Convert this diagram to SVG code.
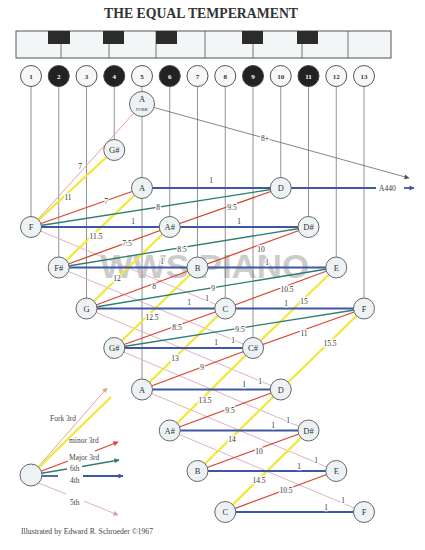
<svg xmlns="http://www.w3.org/2000/svg" width="425" height="550" viewBox="0 0 425 550">
<style>
.kb{fill:#f3f6f6;stroke:#555;stroke-width:1}
.bk{fill:#2b2b2b}
.kl{stroke:#555;stroke-width:0.8}
.num{fill:#f6f8f8;stroke:#555;stroke-width:1}
.numb{fill:#222;stroke:#444;stroke-width:1}
.nt{font-family:"Liberation Serif",serif;font-size:7px;font-weight:bold;text-anchor:middle;fill:#333}
.ntw{font-family:"Liberation Serif",serif;font-size:7px;font-weight:bold;text-anchor:middle;fill:#fff}
.node{fill:#edf3f5;stroke:#666;stroke-width:1}
.lab{font-family:"Liberation Serif",serif;font-size:8.5px;text-anchor:middle;fill:#333}
.v{stroke:#777;stroke-width:0.8;fill:none}
.bl{stroke:#3e56a6;stroke-width:1.8;fill:none}
.rd{stroke:#d9442f;stroke-width:1.3;fill:none}
.gr{stroke:#2e7d70;stroke-width:1.3;fill:none}
.ye{stroke:#f2e833;stroke-width:2.2;fill:none}
.pk{stroke:#e6a092;stroke-width:1;fill:none}
.p5{stroke:#dcb2c8;stroke-width:1;fill:none}
.fk{stroke:#666;stroke-width:0.8;fill:none}
.t{font-family:"Liberation Serif",serif;font-size:7.5px;text-anchor:middle;fill:#333;stroke:#fff;stroke-width:2.5;paint-order:stroke;stroke-linejoin:round}
.lg{font-family:"Liberation Serif",serif;font-size:7.5px;fill:#444}
</style>
<defs>
<marker id="mk" viewBox="0 0 10 10" refX="9" refY="5" markerWidth="7" markerHeight="5" orient="auto" markerUnits="userSpaceOnUse"><path d="M0,0 L10,5 L0,10 z" fill="#555"/></marker>
<marker id="mb" viewBox="0 0 10 10" refX="9" refY="5" markerWidth="7" markerHeight="5" orient="auto" markerUnits="userSpaceOnUse"><path d="M0,0 L10,5 L0,10 z" fill="#3e56a6"/></marker>
<marker id="mr" viewBox="0 0 10 10" refX="9" refY="5" markerWidth="7" markerHeight="5" orient="auto" markerUnits="userSpaceOnUse"><path d="M0,0 L10,5 L0,10 z" fill="#d9442f"/></marker>
<marker id="mg" viewBox="0 0 10 10" refX="9" refY="5" markerWidth="7" markerHeight="5" orient="auto" markerUnits="userSpaceOnUse"><path d="M0,0 L10,5 L0,10 z" fill="#2e7d70"/></marker>
<marker id="mp" viewBox="0 0 10 10" refX="9" refY="5" markerWidth="7" markerHeight="5" orient="auto" markerUnits="userSpaceOnUse"><path d="M0,0 L10,5 L0,10 z" fill="#e6a092"/></marker>
<marker id="m5" viewBox="0 0 10 10" refX="9" refY="5" markerWidth="7" markerHeight="5" orient="auto" markerUnits="userSpaceOnUse"><path d="M0,0 L10,5 L0,10 z" fill="#cf9ab8"/></marker>
</defs>
<rect width="425" height="550" fill="#fff"/>
<text x="201" y="18" font-family="Liberation Serif,serif" font-size="15" font-weight="bold" fill="#333" text-anchor="middle" textLength="194" lengthAdjust="spacingAndGlyphs">THE EQUAL TEMPERAMENT</text>

<g id="keyboard">
<rect class="kb" x="16" y="31" width="375" height="27"/>
<line class="kl" x1="156" y1="31" x2="156" y2="58"/>
<line class="kl" x1="205" y1="31" x2="205" y2="58"/>
<line class="kl" x1="348" y1="31" x2="348" y2="58"/>
<line class="kl" x1="61" y1="44" x2="61" y2="58"/>
<line class="kl" x1="109" y1="44" x2="109" y2="58"/>
<line class="kl" x1="253" y1="44" x2="253" y2="58"/>
<line class="kl" x1="302" y1="44" x2="302" y2="58"/>
<rect class="bk" x="48" y="31" width="22" height="13"/>
<rect class="bk" x="103" y="31" width="21" height="13"/>
<rect class="bk" x="156" y="31" width="21" height="13"/>
<rect class="bk" x="242" y="31" width="21" height="13"/>
<rect class="bk" x="297" y="31" width="21" height="13"/>
</g>

<text x="100" y="278" font-family="Liberation Sans,sans-serif" font-size="33" font-weight="bold" fill="#9a9a9a" opacity="0.5" textLength="209" lengthAdjust="spacingAndGlyphs">WWS PIANO</text>

<g id="connectors">
<g id="verticals">
<line class="v" x1="31" y1="86" x2="31" y2="227"/>
<line class="v" x1="58.75" y1="86" x2="58.75" y2="267.5"/>
<line class="v" x1="86.5" y1="86" x2="86.5" y2="308.5"/>
<line class="v" x1="114.25" y1="86" x2="114.25" y2="150"/>
<line class="v" x1="142" y1="86" x2="142" y2="389.5"/>
<line class="v" x1="169.75" y1="86" x2="169.75" y2="227"/>
<line class="v" x1="197.5" y1="86" x2="197.5" y2="267.5"/>
<line class="v" x1="225.25" y1="86" x2="225.25" y2="308.5"/>
<line class="v" x1="253" y1="86" x2="253" y2="348"/>
<line class="v" x1="280.75" y1="86" x2="280.75" y2="188"/>
<line class="v" x1="308.5" y1="86" x2="308.5" y2="227"/>
<line class="v" x1="336.25" y1="86" x2="336.25" y2="267.5"/>
<line class="v" x1="364" y1="86" x2="364" y2="308.5"/>
</g>
<line class="fk" x1="154" y1="107.5" x2="409" y2="178" marker-end="url(#mk)"/>
<line class="pk" x1="142" y1="104" x2="31" y2="227"/>
<g id="fifths">
<line class="p5" x1="31" y1="227" x2="225.25" y2="308.5"/>
<line class="p5" x1="58.75" y1="267.5" x2="253" y2="348"/>
<line class="p5" x1="86.5" y1="308.5" x2="280.75" y2="389.5"/>
<line class="p5" x1="114.25" y1="348" x2="308.5" y2="430.5"/>
<line class="p5" x1="142" y1="389.5" x2="336.25" y2="471"/>
<line class="p5" x1="169.75" y1="430.5" x2="364" y2="512"/>
</g>
<g id="minor3">
<line class="ye" x1="31" y1="227" x2="114.25" y2="150"/>
<line class="ye" x1="58.75" y1="267.5" x2="142" y2="188"/>
<line class="ye" x1="86.5" y1="308.5" x2="169.75" y2="227"/>
<line class="ye" x1="114.25" y1="348" x2="197.5" y2="267.5"/>
<line class="ye" x1="142" y1="389.5" x2="225.25" y2="308.5"/>
<line class="ye" x1="169.75" y1="430.5" x2="253" y2="348"/>
<line class="ye" x1="197.5" y1="471" x2="280.75" y2="389.5"/>
<line class="ye" x1="225.25" y1="512" x2="308.5" y2="430.5"/>
<line class="ye" x1="253" y1="348" x2="336.25" y2="267.5"/>
<line class="ye" x1="280.75" y1="389.5" x2="364" y2="308.5"/>
</g>
<g id="sixths">
<line class="gr" x1="31" y1="227" x2="280.75" y2="188"/>
<line class="gr" x1="58.75" y1="267.5" x2="308.5" y2="227"/>
<line class="gr" x1="86.5" y1="308.5" x2="336.25" y2="267.5"/>
<line class="gr" x1="114.25" y1="348" x2="364" y2="308.5"/>
</g>
<g id="major3">
<line class="rd" x1="31" y1="227" x2="142" y2="188"/>
<line class="rd" x1="58.75" y1="267.5" x2="169.75" y2="227"/>
<line class="rd" x1="86.5" y1="308.5" x2="197.5" y2="267.5"/>
<line class="rd" x1="114.25" y1="348" x2="225.25" y2="308.5"/>
<line class="rd" x1="142" y1="389.5" x2="253" y2="348"/>
<line class="rd" x1="169.75" y1="227" x2="280.75" y2="188"/>
<line class="rd" x1="197.5" y1="267.5" x2="308.5" y2="227"/>
<line class="rd" x1="225.25" y1="308.5" x2="336.25" y2="267.5"/>
<line class="rd" x1="253" y1="348" x2="364" y2="308.5"/>
<line class="rd" x1="169.75" y1="430.5" x2="280.75" y2="389.5"/>
<line class="rd" x1="197.5" y1="471" x2="308.5" y2="430.5"/>
<line class="rd" x1="225.25" y1="512" x2="336.25" y2="471"/>
</g>
<g id="fourths">
<line class="bl" x1="142" y1="188" x2="280.75" y2="188"/>
<line class="bl" x1="280.75" y1="188" x2="376" y2="188"/>
<line class="bl" x1="404" y1="188" x2="414" y2="188" marker-end="url(#mb)"/>
<line class="bl" x1="31" y1="227" x2="308.5" y2="227"/>
<line class="bl" x1="58.75" y1="267.5" x2="336.25" y2="267.5"/>
<line class="bl" x1="86.5" y1="308.5" x2="364" y2="308.5"/>
<line class="bl" x1="114.25" y1="348" x2="253" y2="348"/>
<line class="bl" x1="142" y1="389.5" x2="280.75" y2="389.5"/>
<line class="bl" x1="169.75" y1="430.5" x2="308.5" y2="430.5"/>
<line class="bl" x1="197.5" y1="471" x2="336.25" y2="471"/>
<line class="bl" x1="225.25" y1="512" x2="364" y2="512"/>
</g>
<g id="labels">
<text class="t" x="265" y="141">8+</text>
<text class="t" x="80" y="169">7</text>
<text class="t" x="68" y="200">11</text>
<text class="t" x="96" y="239">11.5</text>
<text class="t" x="117" y="281">12</text>
<text class="t" x="152" y="320">12.5</text>
<text class="t" x="175" y="361">13</text>
<text class="t" x="205" y="403">13.5</text>
<text class="t" x="232" y="442">14</text>
<text class="t" x="259" y="483">14.5</text>
<text class="t" x="304" y="304">15</text>
<text class="t" x="330" y="346">15.5</text>
<text class="t" x="106" y="204">7</text>
<text class="t" x="127" y="246">7.5</text>
<text class="t" x="154" y="289">8</text>
<text class="t" x="177" y="330">8.5</text>
<text class="t" x="202" y="370">9</text>
<text class="t" x="232" y="210">9.5</text>
<text class="t" x="261" y="252">10</text>
<text class="t" x="287" y="292">10.5</text>
<text class="t" x="304" y="336">11</text>
<text class="t" x="230" y="413">9.5</text>
<text class="t" x="259" y="454">10</text>
<text class="t" x="286" y="493">10.5</text>
<text class="t" x="158" y="210">8</text>
<text class="t" x="182" y="252">8.5</text>
<text class="t" x="213" y="291">9</text>
<text class="t" x="240" y="332">9.5</text>
<text class="t" x="211" y="183">1</text>
<text class="t" x="133" y="224">1</text>
<text class="t" x="239" y="224">1</text>
<text class="t" x="162" y="264">1</text>
<text class="t" x="267" y="265">1</text>
<text class="t" x="189" y="305">1</text>
<text class="t" x="286" y="306">1</text>
<text class="t" x="216" y="345">1</text>
<text class="t" x="244" y="387">1</text>
<text class="t" x="273" y="428">1</text>
<text class="t" x="299" y="469">1</text>
<text class="t" x="326" y="510">1</text>
<text class="t" x="207" y="301">1</text>
<text class="t" x="233" y="343">1</text>
<text class="t" x="260" y="384">1</text>
<text class="t" x="288" y="423">1</text>
<text class="t" x="316" y="463">1</text>
<text class="t" x="343" y="503">1</text>
</g>
<text x="379" y="190.5" font-family="Liberation Serif,serif" font-size="7.5" fill="#333">A440</text>
</g>

<g id="numbers">
<g id="k1"><circle class="num" cx="31" cy="76" r="10.5"/><text class="nt" x="31" y="78.5">1</text></g>
<g id="k2"><circle class="numb" cx="58.75" cy="76" r="10.5"/><text class="ntw" x="58.75" y="78.5">2</text></g>
<g id="k3"><circle class="num" cx="86.5" cy="76" r="10.5"/><text class="nt" x="86.5" y="78.5">3</text></g>
<g id="k4"><circle class="numb" cx="114.25" cy="76" r="10.5"/><text class="ntw" x="114.25" y="78.5">4</text></g>
<g id="k5"><circle class="num" cx="142" cy="76" r="10.5"/><text class="nt" x="142" y="78.5">5</text></g>
<g id="k6"><circle class="numb" cx="169.75" cy="76" r="10.5"/><text class="ntw" x="169.75" y="78.5">6</text></g>
<g id="k7"><circle class="num" cx="197.5" cy="76" r="10.5"/><text class="nt" x="197.5" y="78.5">7</text></g>
<g id="k8"><circle class="num" cx="225.25" cy="76" r="10.5"/><text class="nt" x="225.25" y="78.5">8</text></g>
<g id="k9"><circle class="numb" cx="253" cy="76" r="10.5"/><text class="ntw" x="253" y="78.5">9</text></g>
<g id="k10"><circle class="num" cx="280.75" cy="76" r="10.5"/><text class="nt" x="280.75" y="78.5">10</text></g>
<g id="k11"><circle class="numb" cx="308.5" cy="76" r="10.5"/><text class="ntw" x="308.5" y="78.5">11</text></g>
<g id="k12"><circle class="num" cx="336.25" cy="76" r="10.5"/><text class="nt" x="336.25" y="78.5">12</text></g>
<g id="k13"><circle class="num" cx="364" cy="76" r="10.5"/><text class="nt" x="364" y="78.5">13</text></g>
</g>

<g id="fork"><circle class="node" cx="142" cy="104" r="12.5"/><text class="lab" x="142" y="102">A</text><text x="142" y="110.5" font-family="Liberation Serif,serif" font-size="4.5" text-anchor="middle" fill="#333">FORK</text></g>
<g id="gs0"><circle class="node" cx="114.25" cy="150" r="10.5"/><text class="lab" x="114.25" y="153">G#</text></g>
<g id="a0"><circle class="node" cx="142" cy="188" r="10.5"/><text class="lab" x="142" y="191">A</text></g>
<g id="d0"><circle class="node" cx="280.75" cy="188" r="10.5"/><text class="lab" x="280.75" y="191">D</text></g>
<g id="f1"><circle class="node" cx="31" cy="227" r="10.5"/><text class="lab" x="31" y="230">F</text></g>
<g id="as1"><circle class="node" cx="169.75" cy="227" r="10.5"/><text class="lab" x="169.75" y="230">A#</text></g>
<g id="ds1"><circle class="node" cx="308.5" cy="227" r="10.5"/><text class="lab" x="308.5" y="230">D#</text></g>
<g id="fs2"><circle class="node" cx="58.75" cy="267.5" r="10.5"/><text class="lab" x="58.75" y="270.5">F#</text></g>
<g id="b2"><circle class="node" cx="197.5" cy="267.5" r="10.5"/><text class="lab" x="197.5" y="270.5">B</text></g>
<g id="e2"><circle class="node" cx="336.25" cy="267.5" r="10.5"/><text class="lab" x="336.25" y="270.5">E</text></g>
<g id="g3"><circle class="node" cx="86.5" cy="308.5" r="10.5"/><text class="lab" x="86.5" y="311.5">G</text></g>
<g id="c3"><circle class="node" cx="225.25" cy="308.5" r="10.5"/><text class="lab" x="225.25" y="311.5">C</text></g>
<g id="f3"><circle class="node" cx="364" cy="308.5" r="10.5"/><text class="lab" x="364" y="311.5">F</text></g>
<g id="gs4"><circle class="node" cx="114.25" cy="348" r="10.5"/><text class="lab" x="114.25" y="351">G#</text></g>
<g id="cs4"><circle class="node" cx="253" cy="348" r="10.5"/><text class="lab" x="253" y="351">C#</text></g>
<g id="a5"><circle class="node" cx="142" cy="389.5" r="10.5"/><text class="lab" x="142" y="392.5">A</text></g>
<g id="d5"><circle class="node" cx="280.75" cy="389.5" r="10.5"/><text class="lab" x="280.75" y="392.5">D</text></g>
<g id="as6"><circle class="node" cx="169.75" cy="430.5" r="10.5"/><text class="lab" x="169.75" y="433.5">A#</text></g>
<g id="ds6"><circle class="node" cx="308.5" cy="430.5" r="10.5"/><text class="lab" x="308.5" y="433.5">D#</text></g>
<g id="b7"><circle class="node" cx="197.5" cy="471" r="10.5"/><text class="lab" x="197.5" y="474">B</text></g>
<g id="e7"><circle class="node" cx="336.25" cy="471" r="10.5"/><text class="lab" x="336.25" y="474">E</text></g>
<g id="c8"><circle class="node" cx="225.25" cy="512" r="10.5"/><text class="lab" x="225.25" y="515">C</text></g>
<g id="f8"><circle class="node" cx="364" cy="512" r="10.5"/><text class="lab" x="364" y="515">F</text></g>

<g id="legend">
<line class="pk" x1="31" y1="475" x2="107" y2="388" marker-end="url(#mp)"/>
<line class="ye" x1="31" y1="475" x2="111" y2="397"/>
<line class="rd" x1="31" y1="475" x2="68" y2="461"/>
<line class="rd" x1="95" y1="451" x2="118" y2="442" marker-end="url(#mr)"/>
<line class="gr" x1="31" y1="475" x2="67" y2="469"/>
<line class="gr" x1="82" y1="466.5" x2="119" y2="460" marker-end="url(#mg)"/>
<line class="bl" x1="31" y1="476" x2="58" y2="476"/>
<line class="bl" x1="83" y1="476" x2="123" y2="476" marker-end="url(#mb)"/>
<line class="p5" x1="31" y1="480" x2="66" y2="494"/>
<line class="p5" x1="84" y1="501" x2="118" y2="515" marker-end="url(#m5)"/>
<g id="legend-node"><circle class="node" cx="31" cy="475" r="11"/></g>
<text class="lg" x="50" y="421">Fork 3rd</text>
<text class="lg" x="69" y="443">minor 3rd</text>
<text class="lg" x="69" y="460">Major 3rd</text>
<text class="lg" x="70" y="470.5">6th</text>
<text class="lg" x="70" y="482.5">4th</text>
<text class="lg" x="70" y="505">5th</text>
</g>
<text x="21" y="534" font-family="Liberation Serif,serif" font-size="7.5" fill="#444" textLength="132" lengthAdjust="spacingAndGlyphs">Illustrated by Edward R. Schroeder ©1967</text>
</svg>
